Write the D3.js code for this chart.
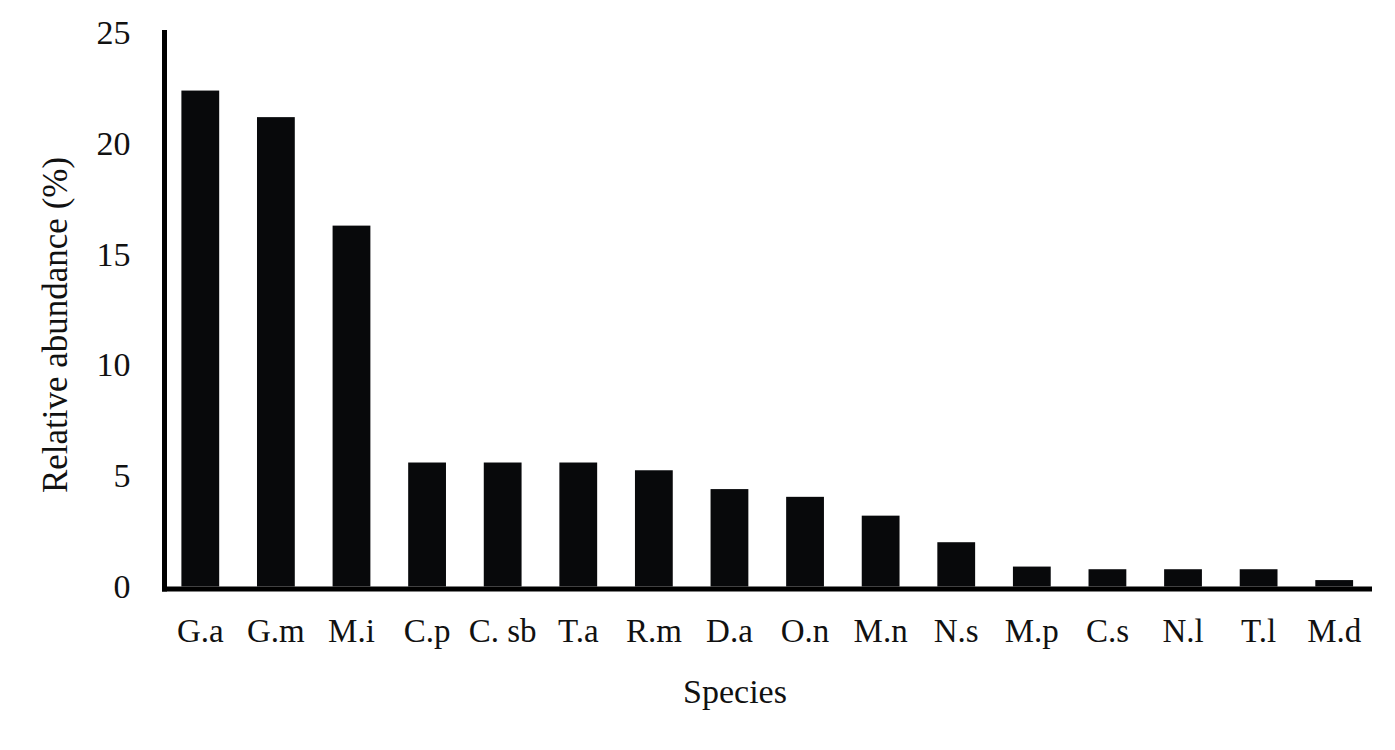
<!doctype html>
<html>
  <head>
    <script src="https://cdnjs.cloudflare.com/ajax/libs/d3/7.8.5/d3.min.js"></script>
    <style>
      body { margin: 0; background: #fff; }
      text { font-family: "Liberation Serif", "Times New Roman", serif; fill: #111; }
    </style>
  </head>
  <body>
    <svg width="1395" height="750"></svg>

    <script>
        // values
        var species = ["G.a", "G.m", "M.i", "C.p", "C. sb", "T.a", "R.m", "D.a",
                       "O.n", "M.n", "N.s", "M.p", "C.s", "N.l", "T.l", "M.d"];
        var abundance = [22.4, 21.2, 16.3, 5.6, 5.6, 5.6, 5.25, 4.4,
                         4.05, 3.2, 2.0, 0.9, 0.78, 0.78, 0.78, 0.29];
        var yTicks = [0, 5, 10, 15, 20, 25];

        var svg = d3.select("svg");

        var x = d3.scaleBand().domain(species).range([162.5, 1372])
            .paddingInner(0.5).paddingOuter(0.25);
        var y = d3.scaleLinear().domain([0, 25]).range([586.5, 33]);

        var data = species.map((s, i) => ({name: s, value: abundance[i]}));

        svg.selectAll("rect.bar")
            .data(data)
            .enter()
            .append("rect")
            .attr("class", "bar")
            .attr("x", d => x(d.name))
            .attr("width", x.bandwidth())
            .attr("y", d => y(d.value))
            .attr("height", d => y(0) - y(d.value))
            .style("fill", "#08090b");

        // y axis: line + labels, no tick marks
        var yAxis = svg.append("g")
            .attr("transform", "translate(164.5,0)")
            .call(d3.axisLeft(y).tickValues(yTicks).tickSize(0).tickPadding(34));
        yAxis.select(".domain").remove();
        yAxis.selectAll("text")
            .style("font-family", "'Liberation Serif', serif")
            .style("font-size", "34px")
            .attr("fill", "#111");
        svg.append("line")
            .attr("x1", 164.5).attr("x2", 164.5)
            .attr("y1", 30).attr("y2", 591.5)
            .style("stroke", "#000").style("stroke-width", 5);

        // x axis
        var xAxis = svg.append("g")
            .attr("transform", "translate(0,589)")
            .call(d3.axisBottom(x).tickSize(0).tickPadding(30));
        xAxis.select(".domain").remove();
        xAxis.selectAll("text")
            .style("font-family", "'Liberation Serif', serif")
            .style("font-size", "33px")
            .attr("fill", "#111");
        svg.append("line")
            .attr("x1", 162).attr("x2", 1372)
            .attr("y1", 589).attr("y2", 589)
            .style("stroke", "#000").style("stroke-width", 5);

        svg.append("text")
            .attr("x", 735).attr("y", 703)
            .attr("text-anchor", "middle")
            .style("font-size", "34px")
            .text("Species");

        svg.append("text")
            .attr("transform", "translate(67,325) rotate(-90)")
            .attr("text-anchor", "middle")
            .style("font-size", "35px")
            .text("Relative abundance (%)");
    </script>
  </body>
</html>
